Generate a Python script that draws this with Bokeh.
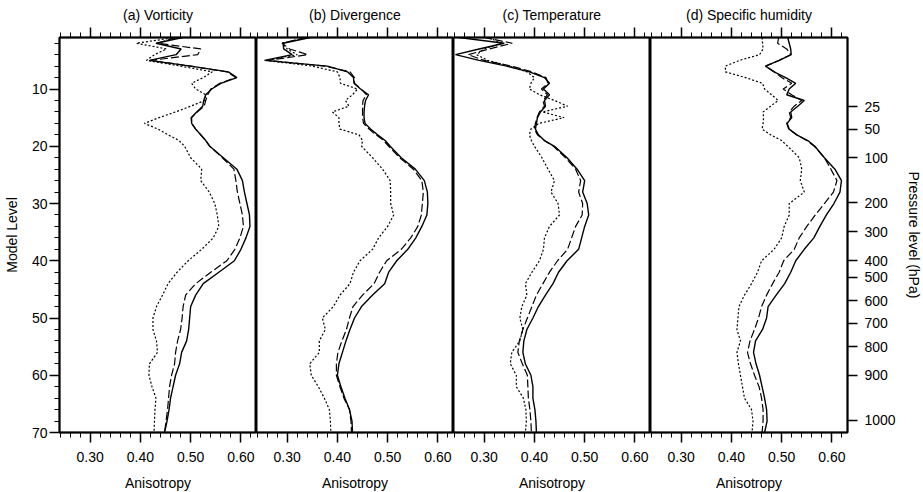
from bokeh.plotting import figure
from bokeh.layouts import row
from bokeh.models import (Range1d, LinearAxis, SingleIntervalTicker, FixedTicker,
                          PrintfTickFormatter, CustomJSTickFormatter)
from bokeh.embed import file_html
from bokeh.resources import INLINE

FONT = "Liberation Sans"

LEVELS = [1, 2, 3, 4, 5, 6, 7, 8, 9, 10, 11, 12, 13, 14, 15, 16, 17, 18, 19, 20,
          22, 24, 26, 28, 30, 32, 34, 36, 38, 40, 42, 44, 46, 48, 50, 52, 54, 56,
          58, 60, 62, 64, 66, 68, 70]

TITLES = ["(a) Vorticity", "(b) Divergence", "(c) Temperature", "(d) Specific humidity"]

VORT_SOLID = [0.484, 0.431, 0.481, 0.471, 0.418, 0.500, 0.575, 0.592, 0.560, 0.542,
              0.530, 0.526, 0.524, 0.512, 0.501, 0.502, 0.510, 0.520, 0.530, 0.538,
              0.565, 0.592, 0.603, 0.607, 0.612, 0.617, 0.618, 0.610, 0.600, 0.587,
              0.556, 0.525, 0.510, 0.500, 0.498, 0.496, 0.492, 0.482, 0.478, 0.470,
              0.465, 0.460, 0.457, 0.453, 0.448]
VORT_DASHED = [0.470, 0.434, 0.520, 0.514, 0.420, 0.500, 0.572, 0.590, 0.558, 0.540,
               0.534, 0.530, 0.527, 0.513, 0.502, 0.502, 0.510, 0.520, 0.530, 0.538,
               0.563, 0.586, 0.590, 0.593, 0.598, 0.603, 0.605, 0.598, 0.588, 0.572,
               0.540, 0.510, 0.490, 0.485, 0.483, 0.480, 0.474, 0.470, 0.468, 0.462,
               0.458, 0.456, 0.454, 0.451, 0.448]
VORT_DOTTED = [0.470, 0.392, 0.452, 0.428, 0.412, 0.480, 0.543, 0.525, 0.502, 0.510,
               0.530, 0.528, 0.500, 0.470, 0.437, 0.408, 0.435, 0.455, 0.477, 0.488,
               0.500, 0.522, 0.520, 0.537, 0.548, 0.553, 0.556, 0.545, 0.522, 0.495,
               0.473, 0.455, 0.444, 0.432, 0.425, 0.425, 0.432, 0.434, 0.418, 0.417,
               0.423, 0.431, 0.429, 0.428, 0.427]

DIV_SOLID = [0.346, 0.292, 0.293, 0.310, 0.255, 0.380, 0.420, 0.432, 0.433, 0.446,
             0.462, 0.456, 0.454, 0.453, 0.453, 0.455, 0.466, 0.480, 0.495, 0.505,
             0.527, 0.555, 0.573, 0.579, 0.580, 0.578, 0.568, 0.556, 0.540, 0.518,
             0.502, 0.494, 0.470, 0.448, 0.434, 0.425, 0.417, 0.410, 0.403, 0.400,
             0.407, 0.415, 0.424, 0.429, 0.430]
DIV_DASHED = [0.338, 0.290, 0.305, 0.341, 0.262, 0.375, 0.425, 0.434, 0.434, 0.447,
              0.458, 0.451, 0.450, 0.450, 0.450, 0.452, 0.463, 0.477, 0.492, 0.502,
              0.524, 0.551, 0.568, 0.571, 0.569, 0.567, 0.560, 0.546, 0.527, 0.498,
              0.484, 0.473, 0.450, 0.431, 0.424, 0.418, 0.409, 0.401, 0.398, 0.398,
              0.405, 0.413, 0.424, 0.427, 0.428]
DIV_DOTTED = [0.340, 0.290, 0.300, 0.320, 0.258, 0.350, 0.400, 0.405, 0.406, 0.440,
              0.430, 0.416, 0.423, 0.390, 0.403, 0.403, 0.405, 0.443, 0.450, 0.448,
              0.470, 0.490, 0.505, 0.506, 0.506, 0.512, 0.500, 0.482, 0.470, 0.445,
              0.432, 0.425, 0.405, 0.392, 0.370, 0.376, 0.364, 0.364, 0.345, 0.348,
              0.362, 0.374, 0.384, 0.386, 0.387]

TEMP_SOLID = [0.250, 0.340, 0.290, 0.243, 0.290, 0.345, 0.390, 0.420, 0.430, 0.418,
              0.430, 0.420, 0.422, 0.412, 0.406, 0.404, 0.402, 0.408, 0.420, 0.440,
              0.465, 0.485, 0.500, 0.496, 0.505, 0.508, 0.500, 0.494, 0.488, 0.465,
              0.448, 0.437, 0.422, 0.408, 0.397, 0.385, 0.379, 0.377, 0.382, 0.393,
              0.397, 0.397, 0.401, 0.403, 0.404]
TEMP_DASHED = [0.300, 0.356, 0.310, 0.268, 0.300, 0.355, 0.395, 0.423, 0.427, 0.414,
               0.426, 0.417, 0.420, 0.410, 0.405, 0.402, 0.400, 0.406, 0.420, 0.438,
               0.462, 0.482, 0.492, 0.488, 0.496, 0.495, 0.482, 0.474, 0.466, 0.446,
               0.430, 0.417, 0.404, 0.395, 0.386, 0.377, 0.370, 0.367, 0.376, 0.386,
               0.387, 0.388, 0.391, 0.393, 0.394]
TEMP_DOTTED = [0.310, 0.333, 0.300, 0.285, 0.307, 0.350, 0.385, 0.400, 0.393, 0.390,
               0.410, 0.440, 0.466, 0.416, 0.459, 0.409, 0.393, 0.390, 0.394, 0.400,
               0.415, 0.427, 0.440, 0.433, 0.447, 0.450, 0.430, 0.420, 0.418, 0.410,
               0.395, 0.382, 0.385, 0.375, 0.371, 0.377, 0.371, 0.355, 0.352, 0.364,
               0.364, 0.378, 0.383, 0.384, 0.382]

HUM_SOLID = [0.512, 0.515, 0.518, 0.519, 0.495, 0.468, 0.485, 0.508, 0.528, 0.515,
             0.510, 0.545, 0.532, 0.518, 0.520, 0.511, 0.515, 0.530, 0.552, 0.566,
             0.585, 0.606, 0.619, 0.616, 0.604, 0.589, 0.576, 0.564, 0.545, 0.528,
             0.518, 0.506, 0.489, 0.473, 0.470, 0.462, 0.448, 0.444, 0.449, 0.456,
             0.461, 0.466, 0.470, 0.471, 0.466]
HUM_DASHED = [0.494, 0.492, 0.510, 0.518, 0.495, 0.468, 0.485, 0.500, 0.520, 0.503,
              0.520, 0.540, 0.525, 0.515, 0.518, 0.510, 0.514, 0.530, 0.550, 0.565,
              0.585, 0.598, 0.610, 0.603, 0.585, 0.567, 0.550, 0.535, 0.525, 0.504,
              0.495, 0.482, 0.470, 0.460, 0.454, 0.446, 0.437, 0.432, 0.438, 0.446,
              0.455, 0.460, 0.463, 0.463, 0.461]
HUM_DOTTED = [0.461, 0.462, 0.463, 0.456, 0.416, 0.388, 0.388, 0.428, 0.462, 0.466,
              0.480, 0.493, 0.478, 0.463, 0.464, 0.463, 0.461, 0.478, 0.500, 0.512,
              0.535, 0.540, 0.537, 0.545, 0.515, 0.515, 0.505, 0.500, 0.485, 0.460,
              0.452, 0.440, 0.426, 0.415, 0.413, 0.411, 0.418, 0.411, 0.414, 0.418,
              0.422, 0.426, 0.440, 0.443, 0.441]

PRESSURE_TICK_LEVELS = [13.1, 17.0, 22.0, 29.9, 34.9, 40.0, 42.9, 47.0, 50.9, 55.0, 60.0, 67.9]
PRESSURE_LABELS = ["25", "50", "100", "200", "300", "400", "500", "600", "700", "800", "900", "1000"]

SERIES = [
    (VORT_SOLID, VORT_DASHED, VORT_DOTTED),
    (DIV_SOLID, DIV_DASHED, DIV_DOTTED),
    (TEMP_SOLID, TEMP_DASHED, TEMP_DOTTED),
    (HUM_SOLID, HUM_DASHED, HUM_DOTTED),
]


def style_axis(ax):
    ax.axis_line_color = "black"
    ax.axis_line_width = 1.5
    ax.major_tick_line_color = "#000000"
    ax.minor_tick_line_color = "#000000"
    ax.major_tick_out = 10
    ax.major_tick_in = 0
    ax.minor_tick_out = 5
    ax.minor_tick_in = 0
    ax.major_tick_line_width = 1.5
    ax.minor_tick_line_width = 1
    ax.major_label_text_font = FONT
    ax.major_label_text_font_size = "14px"
    ax.major_label_text_color = "black"
    ax.axis_label_text_font = FONT
    ax.axis_label_text_font_size = "14px"
    ax.axis_label_text_font_style = "normal"
    ax.axis_label_text_color = "black"


panels = []
for i, (title, (solid, dashed, dotted)) in enumerate(zip(TITLES, SERIES)):
    p = figure(frame_width=197, frame_height=395,
               x_range=Range1d(0.239, 0.631), y_range=Range1d(70, 1),
               x_axis_location=None, y_axis_location=None,
               toolbar_location=None, output_backend="svg",
               min_border_left=58 if i == 0 else 0,
               min_border_right=74 if i == 3 else 0,
               min_border_top=37, min_border_bottom=56)
    p.grid.grid_line_color = None
    p.outline_line_color = "black"
    p.outline_line_width = 2
    p.background_fill_color = "white"
    p.border_fill_color = "white"

    # top axis: ticks only, with the panel title as its label
    top = LinearAxis(ticker=SingleIntervalTicker(interval=0.1, num_minor_ticks=5),
                     formatter=CustomJSTickFormatter(code="return ''"),
                     axis_label=title)
    style_axis(top)
    top.major_label_text_font_size = "1px"
    top.major_label_standoff = 0
    top.axis_label_standoff = 5
    p.add_layout(top, "above")

    bottom = LinearAxis(ticker=SingleIntervalTicker(interval=0.1, num_minor_ticks=5),
                        formatter=PrintfTickFormatter(format="%.2f"),
                        axis_label="Anisotropy")
    style_axis(bottom)
    bottom.major_label_standoff = 9
    bottom.axis_label_standoff = 10
    p.add_layout(bottom, "below")

    if i == 0:
        left = LinearAxis(ticker=SingleIntervalTicker(interval=10, num_minor_ticks=5),
                          axis_label="Model Level")
        style_axis(left)
        left.major_label_standoff = 2
        left.axis_label_standoff = 9
        p.add_layout(left, "left")

    if i == 3:
        right = LinearAxis(ticker=FixedTicker(ticks=PRESSURE_TICK_LEVELS, minor_ticks=[]),
                           axis_label="Pressure level (hPa)")
        style_axis(right)
        right.major_label_overrides = dict(zip(PRESSURE_TICK_LEVELS, PRESSURE_LABELS))
        right.major_label_standoff = 7
        right.axis_label_standoff = 7
        p.add_layout(right, "right")

    p.line(solid, LEVELS, line_color="black", line_width=1.4)
    p.line(dashed, LEVELS, line_color="black", line_width=1.2, line_dash="8 3")
    p.line(dotted, LEVELS, line_color="black", line_width=1.2, line_dash="2 2")
    panels.append(p)

layout = row(*panels)
open("out.html", "w").write(file_html(layout, INLINE))
